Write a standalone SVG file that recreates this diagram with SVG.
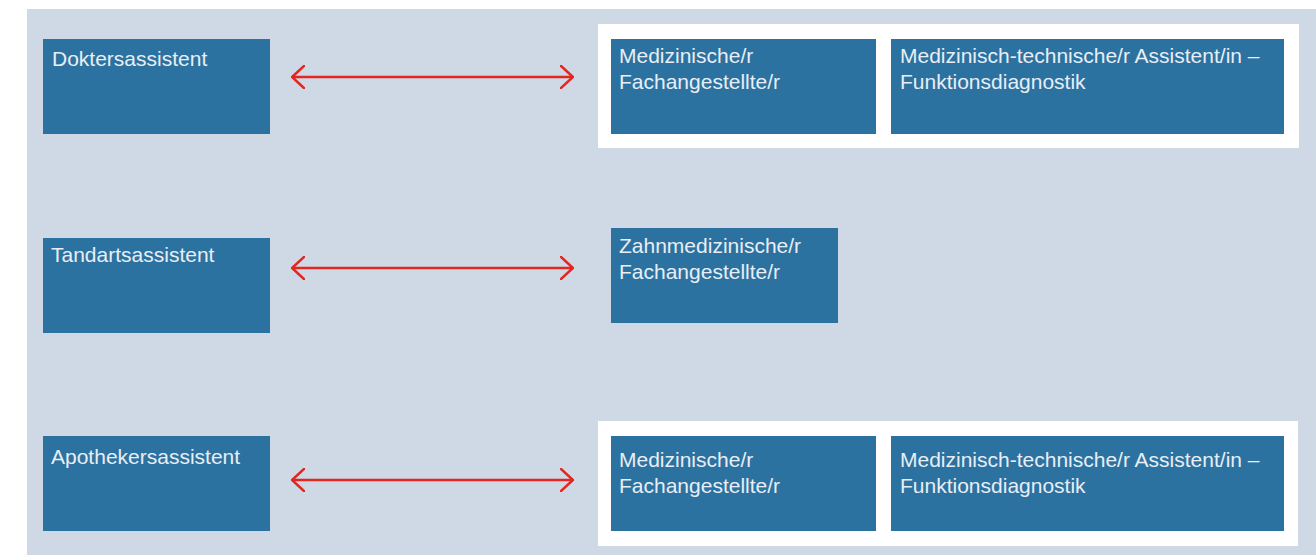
<svg xmlns="http://www.w3.org/2000/svg" width="1316" height="555" viewBox="0 0 1316 555">
<style>
.box{fill:#2C72A1}
.panel{fill:#FFFFFF}
.lbl{font-family:"Liberation Sans",Arial,sans-serif;font-size:21px;fill:#E8EEF4}
.conn{stroke:#E3261F;stroke-width:2.5;fill:none}
.head{stroke:#E3261F;stroke-width:2.5;fill:none;stroke-linecap:square}
</style>
<defs>
<marker id="arr" viewBox="0 0 14 24" refX="13" refY="12" markerWidth="14" markerHeight="24" markerUnits="userSpaceOnUse" orient="auto-start-reverse">
<path d="M1,1 L13,12 L1,23" class="head"/>
</marker>
</defs>
<rect x="0" y="0" width="1316" height="555" fill="#FFFFFF"/>
<rect x="27" y="9" width="1289" height="546" fill="#CFD9E5"/>
<rect class="panel" x="598" y="24" width="701" height="124"/>
<rect class="panel" x="598" y="421" width="700" height="125"/>

<g id="connectors">
<line class="conn" x1="292" y1="77" x2="573" y2="77" marker-start="url(#arr)" marker-end="url(#arr)"/>
<line class="conn" x1="292" y1="268" x2="573" y2="268" marker-start="url(#arr)" marker-end="url(#arr)"/>
<line class="conn" x1="292" y1="480" x2="573" y2="480" marker-start="url(#arr)" marker-end="url(#arr)"/>
</g>

<g id="n-doktersassistent">
<rect class="box" x="43" y="39" width="227" height="95"/>
<text class="lbl" x="52" y="66">Doktersassistent</text>
</g>
<g id="n-med-fach-1">
<rect class="box" x="611" y="39" width="265" height="95"/>
<text class="lbl" x="619" y="63">Medizinische/r</text>
<text class="lbl" x="619" y="89">Fachangestellte/r</text>
</g>
<g id="n-mta-1">
<rect class="box" x="891" y="39" width="393" height="95"/>
<text class="lbl" x="900" y="63">Medizinisch-technische/r Assistent/in –</text>
<text class="lbl" x="900" y="89">Funktionsdiagnostik</text>
</g>

<g id="n-tandartsassistent">
<rect class="box" x="43" y="238" width="227" height="95"/>
<text class="lbl" x="51" y="262">Tandartsassistent</text>
</g>
<g id="n-zahn-fach">
<rect class="box" x="611" y="228" width="227" height="95"/>
<text class="lbl" x="619" y="253">Zahnmedizinische/r</text>
<text class="lbl" x="619" y="279">Fachangestellte/r</text>
</g>

<g id="n-apothekersassistent">
<rect class="box" x="43" y="436" width="227" height="95"/>
<text class="lbl" x="51" y="464">Apothekersassistent</text>
</g>
<g id="n-med-fach-3">
<rect class="box" x="611" y="436" width="265" height="95"/>
<text class="lbl" x="619" y="467">Medizinische/r</text>
<text class="lbl" x="619" y="493">Fachangestellte/r</text>
</g>
<g id="n-mta-3">
<rect class="box" x="891" y="436" width="393" height="95"/>
<text class="lbl" x="900" y="467">Medizinisch-technische/r Assistent/in –</text>
<text class="lbl" x="900" y="493">Funktionsdiagnostik</text>
</g>
</svg>
